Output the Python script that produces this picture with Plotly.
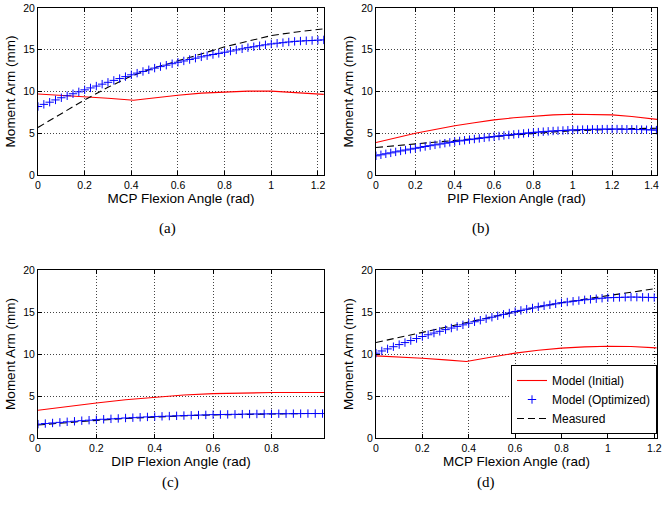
import plotly.graph_objects as go

# ---------------- data ----------------
# (a) MCP
a_line_x = [0, 0.1, 0.2, 0.3, 0.41, 0.5, 0.6, 0.7, 0.8, 0.9, 1.0, 1.1, 1.225]
a_initial = [9.7, 9.55, 9.4, 9.2, 8.95, 9.25, 9.55, 9.8, 9.97, 10.05, 10.05, 9.9, 9.65]
a_meas_x = [0, 0.1, 0.2, 0.3, 0.4, 0.5, 0.6, 0.7, 0.8, 0.9, 1.0, 1.1, 1.225]
a_measured = [5.7, 7.4, 9.0, 10.5, 11.85, 12.85, 13.65, 14.5, 15.35, 16.05, 16.7, 17.1, 17.5]
a_opt_x = [i * 0.025 for i in range(50)]
a_optimized = [8.20, 8.46, 8.72, 8.99, 9.25, 9.49, 9.73, 9.96, 10.20, 10.43,
               10.65, 10.88, 11.10, 11.33, 11.55, 11.78, 12.00, 12.20, 12.40, 12.60,
               12.80, 12.98, 13.15, 13.33, 13.50, 13.66, 13.83, 13.99, 14.15, 14.29,
               14.43, 14.56, 14.70, 14.84, 14.98, 15.11, 15.25, 15.36, 15.48, 15.59,
               15.70, 15.78, 15.85, 15.93, 16.00, 16.04, 16.08, 16.11, 16.15, 16.18]

# (b) PIP
b_line_x = [0, 0.1, 0.2, 0.3, 0.4, 0.5, 0.6, 0.7, 0.8, 0.9, 1.0, 1.1, 1.2, 1.3, 1.43]
b_initial = [3.9, 4.45, 5.0, 5.45, 5.9, 6.25, 6.6, 6.85, 7.05, 7.2, 7.28, 7.28, 7.2, 7.0, 6.65]
b_measured = [3.3, 3.5, 3.7, 3.9, 4.1, 4.35, 4.6, 4.8, 5.0, 5.15, 5.3, 5.4, 5.5, 5.55, 5.6]
b_opt_x = [i * 0.025 for i in range(58)]
b_optimized = [2.30, 2.42, 2.54, 2.65, 2.77, 2.88, 2.99, 3.10, 3.20, 3.31,
               3.41, 3.51, 3.61, 3.71, 3.81, 3.91, 4.00, 4.08, 4.16, 4.24,
               4.31, 4.38, 4.46, 4.53, 4.60, 4.67, 4.74, 4.80, 4.86, 4.92,
               4.98, 5.04, 5.10, 5.14, 5.19, 5.23, 5.27, 5.30, 5.33, 5.37,
               5.40, 5.42, 5.44, 5.46, 5.47, 5.48, 5.49, 5.50, 5.50, 5.50,
               5.49, 5.48, 5.47, 5.46, 5.44, 5.42, 5.40, 5.38]

# (c) DIP
c_line_x = [0, 0.1, 0.2, 0.3, 0.4, 0.5, 0.6, 0.7, 0.8, 0.9, 0.98]
c_initial = [3.3, 3.75, 4.17, 4.55, 4.88, 5.12, 5.28, 5.37, 5.41, 5.42, 5.41]
c_measured = [1.55, 1.85, 2.1, 2.32, 2.5, 2.64, 2.75, 2.82, 2.88, 2.91, 2.92]
c_opt_x = [i * 0.025 for i in range(40)]
c_optimized = [1.65, 1.72, 1.79, 1.86, 1.93, 1.99, 2.06, 2.12, 2.18, 2.23,
               2.28, 2.33, 2.38, 2.42, 2.47, 2.51, 2.55, 2.58, 2.61, 2.64,
               2.67, 2.70, 2.73, 2.75, 2.78, 2.79, 2.81, 2.82, 2.84, 2.85,
               2.86, 2.87, 2.88, 2.89, 2.89, 2.90, 2.90, 2.91, 2.91, 2.91]

# (d) MCP
d_line_x = [0, 0.1, 0.2, 0.3, 0.39, 0.5, 0.6, 0.7, 0.8, 0.9, 1.0, 1.1, 1.21]
d_initial = [9.78, 9.65, 9.5, 9.3, 9.1, 9.65, 10.1, 10.45, 10.7, 10.85, 10.93, 10.9, 10.73]
d_measured = [11.37, 11.95, 12.55, 13.18, 13.75, 14.42, 15.05, 15.6, 16.1, 16.55, 16.95, 17.35, 17.8]
d_opt_x = [i * 0.025 for i in range(49)]
d_optimized = [10.10, 10.36, 10.61, 10.87, 11.12, 11.36, 11.60, 11.84, 12.08, 12.29,
               12.49, 12.70, 12.90, 13.09, 13.28, 13.47, 13.66, 13.84, 14.02, 14.20,
               14.38, 14.55, 14.72, 14.88, 15.05, 15.19, 15.34, 15.48, 15.62, 15.74,
               15.86, 15.98, 16.10, 16.19, 16.28, 16.36, 16.45, 16.51, 16.58, 16.64,
               16.70, 16.72, 16.74, 16.76, 16.78, 16.77, 16.75, 16.74, 16.72]

panels = [
    dict(lx=a_line_x, ini=a_initial, mx=a_meas_x, meas=a_measured, ox=a_opt_x, opt=a_optimized,
         xmax=1.226, xtitle="MCP Flexion Angle (rad)", label="(a)"),
    dict(lx=b_line_x, ini=b_initial, mx=b_line_x, meas=b_measured, ox=b_opt_x, opt=b_optimized,
         xmax=1.428, xtitle="PIP Flexion Angle (rad)", label="(b)"),
    dict(lx=c_line_x, ini=c_initial, mx=c_line_x, meas=c_measured, ox=c_opt_x, opt=c_optimized,
         xmax=0.98, xtitle="DIP Flexion Angle (rad)", label="(c)"),
    dict(lx=d_line_x, ini=d_initial, mx=d_line_x, meas=d_measured, ox=d_opt_x, opt=d_optimized,
         xmax=1.212, xtitle="MCP Flexion Angle (rad)", label="(d)"),
]

W, H = 662, 506
# pixel boxes (left, right, top, bottom)
boxes = [(38, 324, 8, 175), (376, 657, 8, 175), (38, 324, 270, 438), (376, 657, 270, 438)]
label_pos = [(157, 228), (492, 228), (160, 493), (497, 493)]

fig = go.Figure()
font_sans = "Liberation Sans, Arial, Helvetica, sans-serif"
dash_style = "7px,4px"

for i, p in enumerate(panels):
    n = "" if i == 0 else str(i + 1)
    xa, ya = "x" + n, "y" + n
    show = (i == 3)
    fig.add_trace(go.Scatter(x=p["lx"], y=p["ini"], mode="lines", name="Model (Initial)",
                             line=dict(color="#ff0000", width=1.1), xaxis=xa, yaxis=ya,
                             showlegend=show))
    fig.add_trace(go.Scatter(x=p["mx"], y=p["meas"], mode="lines", name="Measured",
                             line=dict(color="black", width=1.1, dash=dash_style),
                             xaxis=xa, yaxis=ya, showlegend=False))
    fig.add_trace(go.Scatter(x=p["ox"], y=p["opt"], mode="markers", name="Model (Optimized)",
                             marker=dict(symbol="cross-thin", size=6,
                                         line=dict(color="#0000ff", width=1)),
                             xaxis=xa, yaxis=ya, showlegend=show))
    if show:
        fig.add_trace(go.Scatter(x=[None], y=[None], mode="lines", name="Measured",
                                 line=dict(color="black", width=1.1, dash=dash_style),
                                 xaxis=xa, yaxis=ya, showlegend=True))
    l, r, t, b = boxes[i]
    common = dict(showline=True, linecolor="black", linewidth=1, mirror="ticks",
                  ticks="inside", ticklen=4, tickcolor="black", automargin=False,
                  showgrid=True, gridcolor="#444444", griddash="1px,2px", gridwidth=1,
                  zeroline=False, tickfont=dict(family=font_sans, size=10.5, color="black"))
    fig.layout["xaxis" + n] = dict(domain=[l / W, r / W], range=[0, p["xmax"]], dtick=0.2,
                                   anchor=ya,
                                   title=dict(text=p["xtitle"], standoff=3,
                                              font=dict(family=font_sans, size=13.5, color="black")),
                                   **common)
    fig.layout["yaxis" + n] = dict(domain=[1 - b / H, 1 - t / H], range=[0, 20], dtick=5,
                                   anchor=xa,
                                   title=dict(text="Moment Arm (mm)", standoff=4,
                                              font=dict(family=font_sans, size=13.5, color="black")),
                                   **common)
    lx, ly = label_pos[i]
    fig.add_annotation(x=lx / W, y=1 - ly / H, xref="paper", yref="paper", text=p["label"],
                       showarrow=False, font=dict(family="Liberation Serif, Times New Roman, serif",
                                                  size=15, color="black"))

fig.update_layout(
    width=W, height=H, margin=dict(l=0, r=0, t=0, b=0),
    paper_bgcolor="white", plot_bgcolor="white",
    legend=dict(x=657 / W, y=1 - 434 / H, xanchor="right", yanchor="bottom",
                bgcolor="white", bordercolor="black", borderwidth=1,
                font=dict(family=font_sans, size=12, color="black"),
                tracegroupgap=0, itemwidth=30),
)

fig.write_html("out.html", config={"displayModeBar": False},
               post_script="document.body.style.margin='0px';document.body.style.overflow='hidden';")
